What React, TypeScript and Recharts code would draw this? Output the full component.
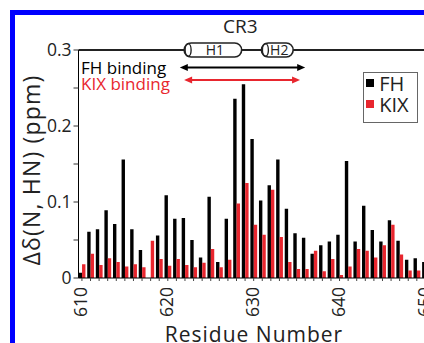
import React from 'react';
import { BarChart, Bar, XAxis, YAxis, ReferenceLine, Legend, Label } from 'recharts';

const RED = '#e8262e';
const INK = '#222';
const FONT = '"Open Sans", "Liberation Sans", sans-serif';

const residues = [
  610, 611, 612, 613, 614, 615, 616, 617, 618, 619,
  620, 621, 622, 623, 624, 625, 626, 627, 628, 629,
  630, 631, 632, 633, 634, 635, 636, 637, 638, 639,
  640, 641, 642, 643, 644, 645, 646, 647, 648, 649, 650,
];
const fhShift = [
  0.007, 0.061, 0.064, 0.089, 0.071, 0.156, 0.064, 0.037, 0, 0.056,
  0.109, 0.078, 0.079, 0.05, 0.027, 0.107, 0.021, 0.078, 0.236, 0.255,
  0.183, 0.102, 0.122, 0.156, 0.091, 0.059, 0.053, 0.032, 0.043, 0.048,
  0.057, 0.154, 0.048, 0.095, 0.063, 0.048, 0.076, 0.049, 0.024, 0.026, 0.021,
];
const kixShift = [
  0.018, 0.032, 0.017, 0.026, 0.021, 0.015, 0.018, 0.014, 0.049, 0.025,
  0.016, 0.025, 0.017, 0.014, 0.02, 0.038, 0.014, 0.024, 0.098, 0.125,
  0.07, 0.057, 0.116, 0.054, 0.021, 0.012, 0.012, 0.036, 0.009, 0.025,
  0.004, 0.015, 0.038, 0.036, 0.027, 0.043, 0.07, 0.031, 0.01, 0.01, 0.01,
];
const yTicks = [0, 0.05, 0.1, 0.15, 0.2, 0.25, 0.3];
const xLabelTicks = [610, 620, 630, 640, 650];
const helices = [
  { name: 'H1', start: 621.9, end: 628.6 },
  { name: 'H2', start: 630.9, end: 634.6 },
];
const domainRegion = { name: 'CR3', start: 622.3, end: 634.6 };
const bindingArrows = [
  { label: 'FH binding', start: 621.4, end: 636.0, level: 0.277, color: '#000' },
  { label: 'KIX binding', start: 621.9, end: 635.4, level: 0.2605, color: RED },
];

const data = residues.map((r, i) => ({ residue: r, FH: fhShift[i], KIX: kixShift[i] }));

const YTick = (p: any) => {
  const v = p.payload.value;
  const major = Math.abs(v * 10 - Math.round(v * 10)) < 1e-6;
  if (!major) return <g />;
  const txt = v === 0 ? '0' : v.toFixed(1);
  return (
    <text x={p.x} y={p.y} dy="0.36em" textAnchor="end" fontSize={17.5} fill={INK}>
      {txt}
    </text>
  );
};

const XTick = (p: any) => {
  const v = p.payload.value;
  if (!xLabelTicks.includes(v)) return <g />;
  const x = p.x - 1.5;
  const y = p.y + 4;
  return (
    <text
      x={x}
      y={y}
      transform={`rotate(-90, ${x}, ${y})`}
      textAnchor="end"
      dominantBaseline="central"
      fontSize={17.5}
      fill={INK}
    >
      {v}
    </text>
  );
};

const topLineShape = (p: any) => {
  const { x1, y1, x2 } = p;
  return (
    <g>
      <line x1={x1} y1={y1} x2={x2} y2={y1} stroke={INK} strokeWidth={2} />
      {bindingArrows.map((b, i) => (
        <text key={b.label} x={x1 + 2.5} y={y1 + 24 + i * 16} fontSize={17} fill={b.color}>
          {b.label}
        </text>
      ))}
    </g>
  );
};

const helixShape = (name: string) => (p: any) => {
  const { x1, y1, x2 } = p;
  const hh = 7;
  const w = x2 - x1;
  return (
    <g>
      <rect x={x1} y={y1 - hh} width={w} height={2 * hh} rx={hh} ry={hh} fill="#fff" stroke={INK} strokeWidth={1.6} />
      <ellipse cx={x1 + 4} cy={y1} rx={3} ry={hh - 0.6} fill="none" stroke={INK} strokeWidth={1.4} />
      <text x={x1 + w / 2 + 2} y={y1} dy="0.36em" textAnchor="middle" fontSize={14} fill={INK}>
        {name}
      </text>
    </g>
  );
};

const regionShape = (name: string) => (p: any) => {
  const { x1, y1, x2 } = p;
  return (
    <text x={(x1 + x2) / 2} y={y1 - 17} textAnchor="middle" fontSize={19} fill={INK}>
      {name}
    </text>
  );
};

const arrowShape = (color: string) => (p: any) => {
  const { x1, y1, x2 } = p;
  const h = 8;
  const w = 3.6;
  return (
    <g>
      <line x1={x1 + h - 1} y1={y1} x2={x2 - h + 1} y2={y1} stroke={color} strokeWidth={2} />
      <polygon points={`${x1},${y1} ${x1 + h},${y1 - w} ${x1 + h},${y1 + w}`} fill={color} />
      <polygon points={`${x2},${y1} ${x2 - h},${y1 - w} ${x2 - h},${y1 + w}`} fill={color} />
    </g>
  );
};

const renderLegend = (props: any) => {
  const payload = props.payload || [];
  return (
    <div
      style={{
        border: '1px solid #666',
        background: '#fff',
        padding: '0 0 7px 2.5px',
        width: 55,
        boxSizing: 'border-box',
        fontFamily: FONT,
      }}
    >
      {payload.map((e: any) => (
        <div
          key={e.value}
          style={{ display: 'flex', alignItems: 'center', height: 21, lineHeight: '21px', fontSize: 20, color: INK }}
        >
          <span style={{ width: 8, height: 8, background: e.color, marginRight: 5, display: 'inline-block' }} />
          {e.value}
        </div>
      ))}
    </div>
  );
};

export default function App() {
  return (
    <div
      style={{
        position: 'absolute',
        left: 0,
        top: 0,
        width: 424,
        height: 343,
        overflow: 'hidden',
        background: '#fff',
        fontFamily: FONT,
      }}
    >
      <div
        style={{
          position: 'absolute',
          left: 10,
          top: 10,
          width: 600,
          height: 600,
          border: '5px solid #0000ff',
          boxSizing: 'border-box',
        }}
      />
      <div style={{ position: 'absolute', left: 0, top: 0 }}>
        <BarChart
          width={434}
          height={343}
          data={data}
          margin={{ top: 50, right: 0, bottom: 0, left: 38.5 }}
          barSize={3.4}
          barGap={0}
        >
          <XAxis
            dataKey="residue"
            type="number"
            domain={[609.6, 651]}
            allowDataOverflow
            ticks={residues}
            interval={0}
            tick={<XTick />}
            tickSize={3}
            tickMargin={2}
            height={65}
            axisLine={{ stroke: '#000', strokeWidth: 1 }}
            tickLine={{ stroke: '#444', strokeWidth: 1 }}
          >
            <Label
              content={() => (
                <text x={254} y={342} textAnchor="middle" fontSize={21} letterSpacing={1} fill={INK}>
                  Residue Number
                </text>
              )}
            />
          </XAxis>
          <YAxis
            type="number"
            domain={[0, 0.3]}
            allowDataOverflow
            ticks={yTicks}
            interval={0}
            width={40}
            tick={<YTick />}
            tickSize={5}
            tickMargin={2}
            axisLine={{ stroke: '#000', strokeWidth: 1 }}
            tickLine={{ stroke: '#333', strokeWidth: 1 }}
          >
            <Label
              content={() => (
                <text
                  x={31}
                  y={170}
                  transform="rotate(-90, 31, 170)"
                  textAnchor="middle"
                  dominantBaseline="central"
                  fontSize={23}
                  letterSpacing={1.2}
                  fill={INK}
                >
                  Δδ(N, HN) (ppm)
                </text>
              )}
            />
          </YAxis>
          <Legend
            layout="vertical"
            align="center"
            verticalAlign="middle"
            content={renderLegend}
            wrapperStyle={{ left: 362.7, top: 71.7, width: 55 }}
          />
          <Bar dataKey="FH" name="FH" fill="#000" isAnimationActive={false} />
          <Bar dataKey="KIX" name="KIX" fill={RED} isAnimationActive={false} />
          <ReferenceLine y={0.3} shape={topLineShape} />
          {helices.map((h) => (
            <ReferenceLine
              key={h.name}
              segment={[
                { x: h.start, y: 0.3 },
                { x: h.end, y: 0.3 },
              ]}
              shape={helixShape(h.name)}
            />
          ))}
          <ReferenceLine
            segment={[
              { x: domainRegion.start, y: 0.3 },
              { x: domainRegion.end, y: 0.3 },
            ]}
            shape={regionShape(domainRegion.name)}
          />
          {bindingArrows.map((b) => (
            <ReferenceLine
              key={b.label}
              segment={[
                { x: b.start, y: b.level },
                { x: b.end, y: b.level },
              ]}
              shape={arrowShape(b.color)}
            />
          ))}
        </BarChart>
      </div>
    </div>
  );
}
